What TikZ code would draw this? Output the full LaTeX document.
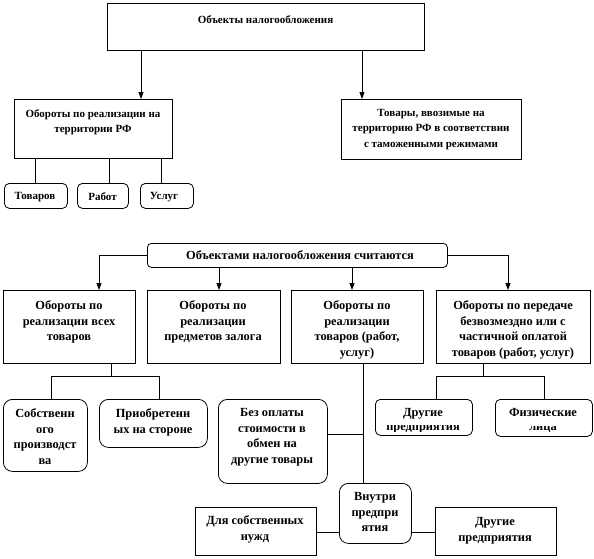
\documentclass[tikz,border=0pt]{standalone}
\usepackage{fontspec}
\setmainfont{Liberation Serif}
\usetikzlibrary{arrows.meta}
\begin{document}
\begin{tikzpicture}[x=1pt,y=-1pt,
 box/.style={draw,line width=0.8pt,inner sep=0pt,anchor=north west},
 rbox/.style={box,rounded corners=5pt},
 rrbox/.style={box,rounded corners=9pt},
 txt/.style={font=\fontsize{11}{15.5}\selectfont\bfseries,align=center,inner sep=0pt,anchor=north},
 txtb/.style={txt,font=\fontsize{12.4}{15.5}\selectfont\bfseries},
 arr/.style={line width=0.8pt,-{Triangle[width=5pt,length=7pt]}},
 ln/.style={line width=0.8pt}]
\useasboundingbox (0,0) rectangle (594,558);
% ---------- upper part ----------
\node[box,minimum width=317pt,minimum height=47pt] (top) at (107,3) {};
\node[txt] (topT) at (265.5,15) {Объекты налогообложения};
\node[box,minimum width=158pt,minimum height=59pt] (b1) at (14,99) {};
\node[txt] (b1T) at (93,109) {Обороты по реализации на\\территории РФ};
\node[box,minimum width=180pt,minimum height=60pt] (b2) at (341,99) {};
\node[txt] (b2T) at (431,109) {Товары, ввозимые на\\территорию РФ в соответствии\\с таможенными режимами};
\node[rbox,minimum width=63pt,minimum height=25pt] (s1) at (4,183) {};
\node[txt] (s1T) at (35,192) {Товаров};
\node[rbox,minimum width=51pt,minimum height=25pt] (s2) at (77,183) {};
\node[txt] (s2T) at (102.5,192) {Работ};
\node[rbox,minimum width=53pt,minimum height=25pt] (s3) at (140,183) {};
\node[txt] (s3T) at (164,192) {Услуг};
\coordinate (xa) at (141,0);
\coordinate (xb) at (362,0);
\coordinate (xs1) at (35,0);
\coordinate (xs2) at (109,0);
\coordinate (xs3) at (161,0);
\draw[arr] (top.south -| xa) -- (b1.north -| xa);
\draw[arr] (top.south -| xb) -- (b2.north -| xb);
\draw[ln] (b1.south -| xs1) -- (s1.north -| xs1);
\draw[ln] (b1.south -| xs2) -- (s2.north -| xs2);
\draw[ln] (b1.south -| xs3) -- (s3.north -| xs3);
% ---------- lower part ----------
\node[box,rounded corners=4pt,minimum width=300pt,minimum height=24pt] (obj) at (147,243) {};
\node[txtb] (objT) at (300,250.5) {Объектами налогообложения считаются};
\node[box,minimum width=132pt,minimum height=73pt] (r1) at (3,290) {};
\node[txtb] (r1T) at (69,300.5) {Обороты по\\реализации всех\\товаров};
\node[box,minimum width=133pt,minimum height=73pt] (r2) at (147,290) {};
\node[txtb] (r2T) at (213,300.5) {Обороты по\\реализации\\предметов залога};
\node[box,minimum width=132pt,minimum height=73pt] (r3) at (291,290) {};
\node[txtb] (r3T) at (357,300.5) {Обороты по\\реализации\\товаров (работ,\\услуг)};
\node[box,minimum width=154pt,minimum height=73pt] (r4) at (436,290) {};
\node[txtb] (r4T) at (513,300.5) {Обороты по передаче\\безвозмездно или с\\частичной оплатой\\товаров (работ, услуг)};
\coordinate (x1) at (99,0);
\coordinate (x2) at (219,0);
\coordinate (x3) at (352,0);
\coordinate (x4) at (508,0);
\draw[arr] (obj.west) -| (r1.north -| x1);
\draw[arr] (obj.south -| x2) -- (r2.north -| x2);
\draw[arr] (obj.south -| x3) -- (r3.north -| x3);
\draw[arr] (obj.east) -| (r4.north -| x4);
% children of r1
\node[rrbox,minimum width=84pt,minimum height=72pt] (c1) at (3,399) {};
\node[txtb] (c1T) at (45,408.5) {Собственн\\ого\\производст\\ва};
\node[rrbox,minimum width=108pt,minimum height=48pt] (c2) at (99,399) {};
\node[txtb] (c2T) at (153,408.5) {Приобретенн\\ых на стороне};
\coordinate (y1) at (0,376);
\coordinate (xr1) at (111,0);
\coordinate (xc1) at (51,0);
\coordinate (xc2) at (159,0);
\draw[ln] (r1.south -| xr1) -- (y1 -| xr1);
\draw[ln] (c1.north -| xc1) -- (y1 -| xc1) -- (y1 -| xc2) -- (c2.north -| xc2);
% children of r4
\node[rbox,minimum width=97pt,minimum height=36pt] (c4) at (375,399) {};
\node[rbox,minimum width=97pt,minimum height=37pt] (c5) at (495,399) {};
\node[txtb] (c4T) at (423,408.5) {Другие};
\begin{scope}
\clip (375,425.5) rectangle (472,431.5);
\node[txtb] (c4U) at (423,424) {предприятия};
\end{scope}
\begin{scope}
\clip (495,407.5) rectangle (592,418);
\node[txtb] (c5T) at (543,408.5) {Физические};
\end{scope}
\begin{scope}
\clip (495,426) rectangle (592,431.5);
\node[txtb] (c5U) at (543,424) {лица};
\end{scope}
\coordinate (xr4) at (483,0);
\coordinate (xc4) at (436,0);
\coordinate (xc5) at (544,0);
\draw[ln] (r4.south -| xr4) -- (y1 -| xr4);
\draw[ln] (c4.north -| xc4) -- (y1 -| xc4) -- (y1 -| xc5) -- (c5.north -| xc5);
% children of r3
\node[rrbox,minimum width=109pt,minimum height=84pt] (c3) at (218,399) {};
\node[txtb] (c3T) at (272,408.5) {Без оплаты\\стоимости в\\обмен на\\другие товары};
\node[rrbox,minimum width=72pt,minimum height=60pt] (d2) at (339,483) {};
\node[txtb] (d2T) at (375,492.5) {Внутри\\предпри\\ятия};
\node[box,minimum width=121pt,minimum height=48pt] (d1) at (195,507) {};
\node[txtb] (d1T) at (255,515.5) {Для собственных\\нужд};
\node[box,minimum width=121pt,minimum height=48pt] (d3) at (435,507) {};
\node[txtb] (d3T) at (495,517.5) {Другие\\предприятия};
\coordinate (xr3) at (363,0);
\coordinate (yb) at (0,434);
\coordinate (yd) at (0,532);
\draw[ln] (r3.south -| xr3) -- (d2.north -| xr3);
\draw[ln] (c3.east |- yb) -- (yb -| xr3);
\draw[ln] (d1.east |- yd) -- (d2.west |- yd);
\draw[ln] (d2.east |- yd) -- (d3.west |- yd);
\end{tikzpicture}
\end{document}
